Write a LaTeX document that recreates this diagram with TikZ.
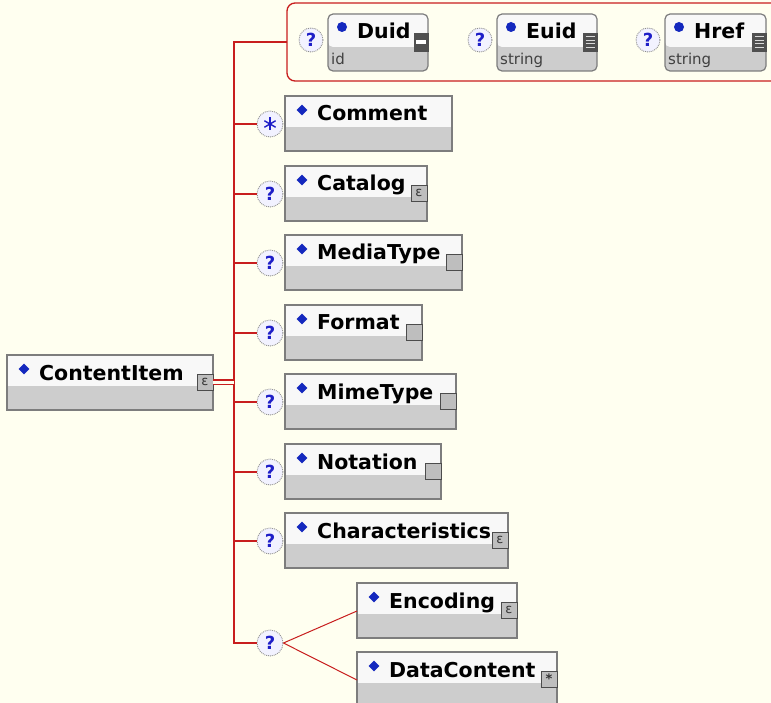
\documentclass[tikz,border=0pt]{standalone}
\usepackage{fontspec}
\setmainfont{DejaVu Sans}
\usetikzlibrary{shapes.geometric}
\definecolor{bg}{RGB}{255,255,240}
\definecolor{lnred}{RGB}{200,30,30}
\definecolor{bxborder}{RGB}{125,125,125}
\definecolor{bxwhite}{RGB}{248,248,248}
\definecolor{bxgray}{RGB}{205,205,205}
\definecolor{dia}{RGB}{20,40,190}
\definecolor{qblue}{RGB}{30,30,200}
\definecolor{icongray}{RGB}{190,190,190}
\definecolor{icondark}{RGB}{80,80,80}
\definecolor{circfill}{RGB}{242,242,255}
\tikzset{
  redline/.style={draw=lnred, line width=1.5pt},
  elbox/.style={draw=bxborder, line width=1.2pt, fill=bxgray, inner sep=0pt, outer sep=0pt,
    minimum height=55pt, anchor=north west,
    path picture={\fill[bxwhite] (path picture bounding box.north west) rectangle ([yshift=-31pt]path picture bounding box.north east);}},
  atbox/.style={draw=bxborder, line width=1.2pt, fill=bxgray, inner sep=0pt, outer sep=0pt,
    rounded corners=5pt, minimum height=57pt, anchor=north west,
    path picture={\fill[bxwhite] (path picture bounding box.north west) rectangle ([yshift=-33pt]path picture bounding box.north east);}},
  grp/.style={draw=lnred, line width=1.3pt, rounded corners=8pt, inner sep=0pt, outer sep=0pt,
    minimum width=520pt, minimum height=78pt, anchor=north west},
  eltext/.style={font=\bfseries\fontsize{20.5}{22}\selectfont, inner sep=0pt, anchor=base west, text=black},
  attype/.style={font=\fontsize{15}{16}\selectfont, inner sep=0pt, anchor=base west, text=black!75},
  diam/.style={diamond, fill=dia, inner sep=0pt, minimum size=11pt},
  atdot/.style={circle, fill=dia, inner sep=0pt, minimum size=10pt},
  qcirc/.style={circle, draw=black!45, densely dotted, line width=0.9pt, fill=circfill,
    minimum size=26pt, inner sep=0pt, text=qblue, font=\bfseries\fontsize{18}{18}\selectfont},
  starq/.style={qcirc, path picture={
    \foreach \a in {90,30,150}{\draw[qblue, line width=1.4pt, solid]
      ([shift={(\a:6.5pt)}]path picture bounding box.center) --
      ([shift={(\a+180:6.5pt)}]path picture bounding box.center);}}},
  iconnone/.style={inner sep=0pt, outer sep=0pt, anchor=north east},
  iconbase/.style={draw=black!70, line width=0.9pt, inner sep=0pt, outer sep=0pt,
    minimum width=16pt, minimum height=16pt, anchor=north east, fill=icongray,
    text=black!80, font=\fontsize{13}{13}\selectfont},
  iconplain/.style={iconbase},
  iconc/.style={iconbase},
  iconstar/.style={iconbase, font=\bfseries\fontsize{13}{13}\selectfont, text depth=-3pt},
  icondash/.style={iconbase, minimum width=14pt, minimum height=18pt, fill=icondark, draw=icondark,
    path picture={\fill[white] ([xshift=2pt,yshift=-7pt]path picture bounding box.north west)
      rectangle ([xshift=-2pt,yshift=-11.5pt]path picture bounding box.north east);}},
  iconlines/.style={iconbase, minimum width=14pt, minimum height=18pt, fill=icondark, draw=icondark,
    path picture={\foreach \k in {4,7.5,11,14.5}{\draw[black!15, line width=1pt]
      ([xshift=2.5pt,yshift=-\k pt]path picture bounding box.north west) --
      ([xshift=-2.5pt,yshift=-\k pt]path picture bounding box.north east);}}},
}
\newcommand{\elem}[7]{%
  \node[elbox, minimum width={#4pt-#2pt}] (#1) at (#2,#3) {};
  \node[eltext] (#1-t) at ([xshift=32pt,yshift=-25pt]#1.north west) {#5};
  \node[#6] (#1-i) at ([yshift=-19pt]#1.north east) {#7};
  \node[diam] (#1-d) at ([xshift=17pt,yshift=-14pt]#1.north west) {};
}
\newcommand{\attr}[7]{%
  \node[atbox, minimum width={#4pt-#2pt}] (#1) at (#2,#3) {};
  \node[attype] (#1-s) at ([xshift=3pt,yshift=-51pt]#1.north west) {#6};
  \node[eltext] (#1-t) at ([xshift=29pt,yshift=-25pt]#1.north west) {#5};
  \node[#7] (#1-i) at ([yshift=-19pt]#1.north east) {};
  \node[atdot] (#1-d) at ([xshift=14pt,yshift=-13pt]#1.north west) {};
  \node[qcirc, minimum size=24pt] (#1-q) at ([xshift=-17pt,yshift=-26pt]#1.north west) {?};
}
\begin{document}
\begin{tikzpicture}[x=1pt,y=-1pt]
  \useasboundingbox (0,0) rectangle (771,703);
  \fill[bg] (0,0) rectangle (771,703);

  % attribute group
  \node[grp] (attrs) at (287,3) {};
  \attr{duid}{328}{14}{428}{Duid}{id}{icondash}
  \attr{euid}{497}{14}{597}{Euid}{string}{iconlines}
  \attr{href}{665}{14}{766}{Href}{string}{iconlines}

  % root element
  \elem{ci}{7}{355}{213}{ContentItem}{iconc}{ɛ}

  % child elements
  \elem{comment}{285}{96}{452}{Comment}{iconnone}{}
  \elem{catalog}{285}{166}{427}{Catalog}{iconc}{ɛ}
  \elem{mediatype}{285}{235}{462}{MediaType}{iconplain}{}
  \elem{format}{285}{305}{422}{Format}{iconplain}{}
  \elem{mimetype}{285}{374}{456}{MimeType}{iconplain}{}
  \elem{notation}{285}{444}{441}{Notation}{iconplain}{}
  \elem{charac}{285}{513}{508}{Characteristics}{iconc}{ɛ}
  \elem{encoding}{357}{583}{517}{Encoding}{iconc}{ɛ}
  \elem{datacontent}{357}{652}{557}{DataContent}{iconstar}{*}

  % occurrence circles
  \node[starq] (comment-q) at ([xshift=-15pt,yshift=-28pt]comment.north west) {};
  \foreach \n in {catalog,mediatype,format,mimetype,notation,charac}{
    \node[qcirc] (\n-q) at ([xshift=-15pt,yshift=-28pt]\n.north west) {?};
  }
  \node[qcirc] (choice) at (270,643) {?};

  % connectors
  \coordinate (sptop) at (234,42);
  \coordinate (spbot) at (234,643);
  \draw[redline] (attrs.west) -- (sptop) -- (spbot) -- (choice.west);
  \draw[lnred, line width=1.3pt, double=bg, double distance=3pt] (ci-i.east) -- (sptop |- ci-i.east);
  \foreach \n in {comment,catalog,mediatype,format,mimetype,notation,charac}{
    \draw[redline] (sptop |- \n-q) -- (\n-q.west);
  }
  \draw[redline, line width=1pt] (choice.east) -- ([yshift=-28pt]encoding.north west);
  \draw[redline, line width=1pt] (choice.east) -- ([yshift=-28pt]datacontent.north west);
\end{tikzpicture}
\end{document}
